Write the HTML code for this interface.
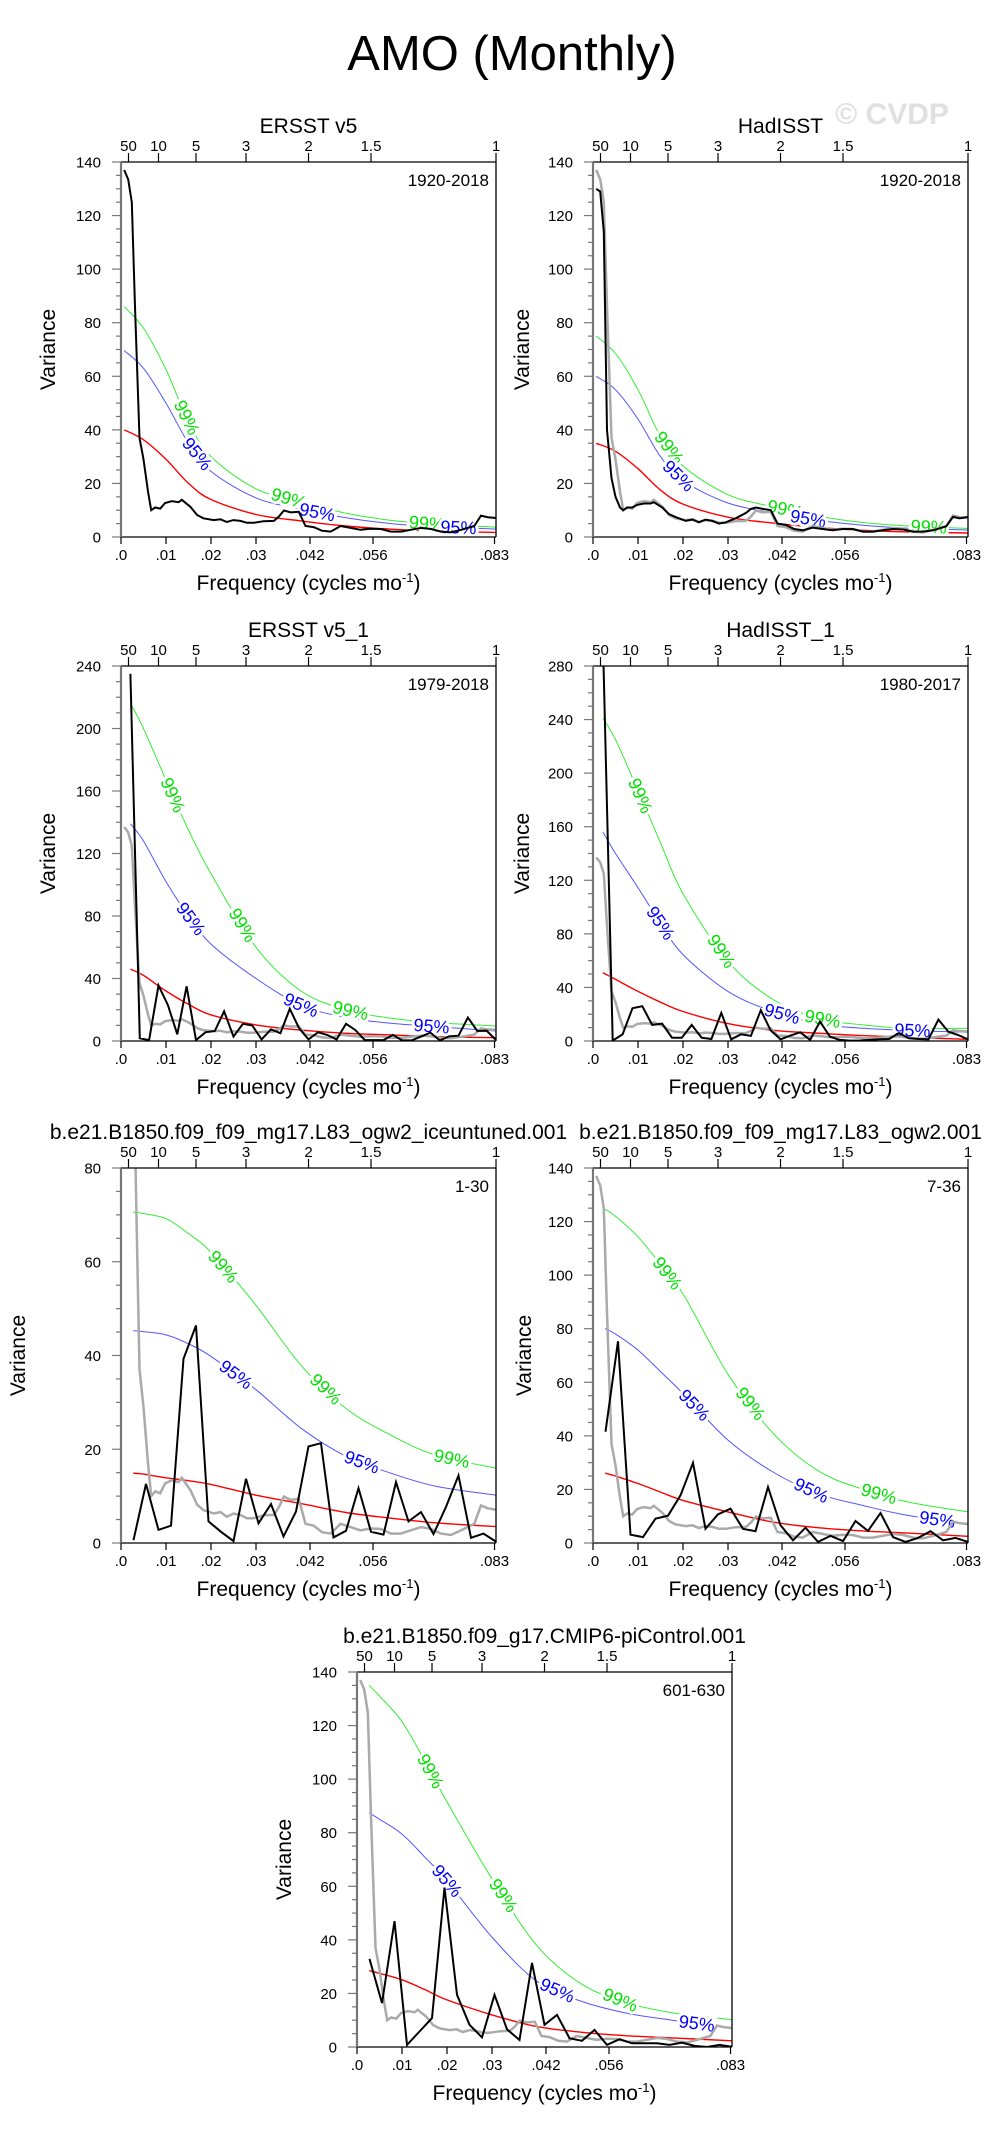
<!DOCTYPE html>
<html><head><meta charset="utf-8"><style>
html,body{margin:0;padding:0;background:#fff;}
svg text{font-family:"Liberation Sans",Arial,sans-serif;}
</style></head><body>
<svg id="fig" xmlns="http://www.w3.org/2000/svg" width="998" height="2135" viewBox="0 0 998 2135">
<text x="512" y="70" font-size="49" text-anchor="middle" fill="#000">AMO (Monthly)</text>
<text x="892" y="124" font-size="30" font-weight="bold" text-anchor="middle" fill="#e0e0e0">© CVDP</text>
</svg>
<script>
// ---- data ----
const p1Freq=[.0007,.0016,.0024,.0031,.0041,.005,.006,.0067,.0076,.0087,.0098,.0113,.0128,.0135,.0154,.0169,.0183,.0206,.0221,.0235,.025,.0265,.028,.0295,.0317,.034,.0351,.0362,.0377,.0395,.041,.0428,.0447,.0466,.0488,.051,.0532,.0555,.0577,.06,.0622,.0644,.0667,.0689,.0711,.0733,.0756,.0785,.08,.0815,.0833];
const p1Black=[137,133.5,125,86,37,29,17,10,11,10.6,12.7,13.4,13,13.9,11.3,8.2,7,6.3,6.6,5.6,6.3,6,5.3,5.3,5.9,6,7.7,9.9,9.2,9.4,4.1,3.7,2.3,2,4.1,3.4,2.7,3.1,3,2,2,2.7,3.4,3,2,1.7,2.7,4.1,8,7.4,7.1];
const p2Black=[130,129,114,40,22,15,11,10,11,11,12,12.5,12.5,13,11,8.5,7.5,6,6.5,5.5,6.5,6,5,5.5,7,9,10.5,11,10.5,10,5,4.5,3,2.5,3.5,3,2.5,3,3,2,2,2.5,3,2.8,2,2,2.5,4,7.5,7,7.5];
const p3Black=[235,1.7,0.6,35.6,23,4.3,35,0.6,5.6,6.4,19,2.8,11,9.9,1,7.5,5,20.6,8.1,1,5.6,3.9,1,11,7,0.6,0.6,0.6,3.9,0.4,0.4,2.8,5.4,0.4,3,3.4,15,6.4,6.6,0.6];
const p4Black=[300,0.3,5,24.5,26,12,13,2.5,2.5,12,2.5,1.5,21,1.3,5,3.8,23,8,1.3,4,6.5,0.8,14.5,3.3,0.8,0.3,0.3,0.8,1.3,1.5,6,2,1.5,1.3,16,7,4.5,1.3];
const p5Black=[0.6,12.6,2.8,3.7,39.3,46.4,4.6,2.4,0.4,13.7,4.2,8.3,1.4,6.7,20.6,21.3,1.2,2.6,11.7,2.4,1.8,13,4.6,6.6,1.9,7.7,14.4,1.1,2,0.3];
const p6Black=[41.5,75.3,3.1,2.2,9.1,10.2,17.8,29.9,5.3,10.7,12.8,5.3,4.4,20.9,6.6,1,5.7,0.4,2.7,0.7,8.2,4.5,11.2,2.2,0.4,1.9,4.4,1,1.9,0.4];
const p7Black=[32.9,16.4,47,0.8,5.8,10.8,59.5,19.5,8.3,3.6,19.5,6.6,2.6,31.4,8.3,12,3.3,2.3,6.4,0.8,2.9,1.4,1.4,1.4,0.8,1.6,0.4,0,0.8,0.1];
const sigFreqTail=[.005,.01,.015,.02,.03,.04,.05,.06,.07,.0833];
const p1Red=[40,36.3,29,20,14,8.4,6,4.1,2.9,2.2,1.7];
const p1Blue=[69.6,63,50,35,24.5,14.6,10.4,7.2,5,3.8,3];
const p1Green=[86,78,62.5,43,30,18,13,8.9,6.2,4.8,3.7];
const p2Red=[35,32,25.5,17.5,12.3,7.4,5.2,3.6,2.5,1.9,1.5];
const p2Blue=[60,55,44,30,21,12.7,9,6.2,4.4,3.3,2.6];
const p2Green=[75,68.5,55,37.5,26.5,15.8,11.3,7.8,5.4,4.1,3.2];
const p3Red=[46,42,32,23.5,16.7,10.3,7,4.9,3.9,2.8,2.1];
const p3Blue=[139,128,102,80,62,40,23,15,11.4,9.2,6.4];
const p3Green=[216,200,167,135,107,60,32,20,14.6,11.8,9.6];
const p4Red=[51,46,37,29,22,13,8,5.8,4,2.8,1.3];
const p4Blue=[156,140,114.5,88,64.5,37,22,13,9.5,8,6.5];
const p4Green=[241,225,187,148,110,59.5,31,17,12,9.5,9.5];
const p5Red=[14.9,14.7,13.9,13.3,12.5,10.2,8.4,6.5,5.3,4.3,3.5];
const p5Blue=[45.3,45.1,44.4,42.5,39.8,32.7,24.5,18.5,14.9,12.1,10.2];
const p5Green=[70.6,70.3,69.2,66,62,50.7,37.9,28.7,23,18.7,16];
const p6Red=[26.1,25,22.2,19,15.9,11.6,7.8,5.7,4.5,3.7,2.5];
const p6Blue=[80,78,72,64,55.8,38.4,26.5,18.4,14,10.3,7.2];
const p6Green=[124.6,122,114.3,104,93,63,41,27,20,15.3,11.6];
const p7Red=[28.5,27.5,25.1,21.5,17.6,12,7.6,5.5,4.2,3.4,2.3];
const p7Blue=[87.4,85,79.5,71,62,41,24.5,17,12.6,10,7];
const p7Green=[135,131,121.5,107,91.5,62.8,37.8,23.4,16.5,12.8,10.2];
const labelFreqs1=[.0146,.0169,.0373,.0436,.068,.075];
const labelFreqs2=[.0169,.019,.0427,.0478,.0746];
const labelFreqs3=[.0115,.0155,.027,.040,.051,.069];
const labelFreqs4=[.0105,.015,.0285,.042,.051,.071];
const labelFreqs5=[.0227,.0255,.0455,.0535,.0735];
const labelFreqs6=[.0165,.0225,.035,.0485,.0635,.0765];
const labelFreqs7=[.0163,.02,.0325,.0445,.0585,.0755];
const bottomTicks=[0,.01,.02,.03,.042,.056,.083];
const bottomTickLabels=[".0",".01",".02",".03",".042",".056",".083"];
const topPeriods=[50,10,5,3,2,1.5,1];
const topPeriodLabels=["50","10","5","3","2","1.5","1"];

const NS="http://www.w3.org/2000/svg";
const svg=document.getElementById('fig');
function mk(tag,attrs,parent){const e=document.createElementNS(NS,tag);for(const k in attrs)e.setAttribute(k,attrs[k]);(parent||svg).appendChild(e);return e;}
const S=375, FMAX=0.08333;
function smoothPath(pts){
  let d=`M${pts[0][0].toFixed(1)},${pts[0][1].toFixed(1)}`;
  for(let i=0;i<pts.length-1;i++){
    const p0=pts[Math.max(0,i-1)],p1=pts[i],p2=pts[i+1],p3=pts[Math.min(pts.length-1,i+2)];
    const c1=[p1[0]+(p2[0]-p0[0])/6,p1[1]+(p2[1]-p0[1])/6];
    const c2=[p2[0]-(p3[0]-p1[0])/6,p2[1]-(p3[1]-p1[1])/6];
    d+=` C${c1[0].toFixed(1)},${c1[1].toFixed(1)} ${c2[0].toFixed(1)},${c2[1].toFixed(1)} ${p2[0].toFixed(1)},${p2[1].toFixed(1)}`;
  }
  return d;
}
function interp(xs,ys,x){
  if(x<=xs[0])return ys[0];
  for(let i=0;i<xs.length-1;i++){if(x<=xs[i+1]){const t=(x-xs[i])/(xs[i+1]-xs[i]);return ys[i]+t*(ys[i+1]-ys[i]);}}
  return ys[ys.length-1];
}
function panel(cfg,idx){
  const L=cfg.x,T=cfg.y,B=T+S,R=L+S;
  const xs=f=>L+f/FMAX*S, ys=v=>B-v/cfg.ymax*S;
  const g=mk('g',{});
  
  
  const cid='clip'+idx;
  const cp=mk('clipPath',{id:cid},g);mk('rect',{x:L,y:T,width:S,height:S},cp);
  const tt=mk('text',{x:L+S/2,y:T-29,'font-size':21,'text-anchor':'middle',fill:'#000'},g);tt.textContent=cfg.title;
  
  
  const dl=mk('text',{x:R-7,y:T+24,'font-size':17,'text-anchor':'end',fill:'#000'},g);dl.textContent=cfg.dates;
  
  
  const sf=[cfg.f0].concat(sigFreqTail);
  const curves=[[cfg.green,'#33ee33',1,'99%-curve'],[cfg.blue,'#5555ff',1,'95%-curve'],[cfg.red,'#ff0000',1.4,'red-noise-curve']];
  const cg=mk('g',{'clip-path':`url(#${cid})`},g);
  curves.forEach(c=>{
    const p=mk('path',{d:smoothPath(sf.map((f,i)=>[xs(f),ys(c[0][i])])),fill:'none',stroke:c[1],'stroke-width':c[2]},cg);
    
    
  });
  cfg.labels.forEach((f,i)=>{
    const is99=i%2===0, arr=is99?cfg.green:cfg.blue;
    const x=xs(f), y=ys(interp(sf,arr,f));
    const df=0.0015, xa=xs(f-df), xb=xs(f+df), ya=ys(interp(sf,arr,f-df)), yb=ys(interp(sf,arr,f+df));
    const ang=Math.atan2(yb-ya,xb-xa)*180/Math.PI;
    const t=mk('text',{x:0,y:6,'font-size':18,'text-anchor':'middle',fill:is99?'#00e000':'#0000ff',stroke:'#fff','stroke-width':6,'paint-order':'stroke',transform:`translate(${x.toFixed(1)},${y.toFixed(1)}) rotate(${ang.toFixed(1)})`},cg);
    t.textContent=is99?'99%':'95%';
    
    
  });
  if(cfg.gray){
    const gp=mk('polyline',{points:p1Freq.map((f,i)=>`${xs(f).toFixed(1)},${ys(p1Black[i]).toFixed(1)}`).join(' '),fill:'none',stroke:'#aaaaaa','stroke-width':2.5},cg);
    
    
  }
  const bp=mk('polyline',{points:cfg.freq.map((f,i)=>`${xs(f).toFixed(1)},${ys(cfg.black[i]).toFixed(1)}`).join(' '),fill:'none',stroke:'#000','stroke-width':2},cg);
  
  
  mk('line',{x1:L,y1:T,x2:R,y2:T,stroke:'#000','stroke-width':1.3},g);
  mk('line',{x1:R,y1:T,x2:R,y2:B,stroke:'#000','stroke-width':1.3},g);
  mk('line',{x1:L,y1:B,x2:R,y2:B,stroke:'#000','stroke-width':1.3},g);
  mk('line',{x1:L,y1:T,x2:L,y2:B,stroke:'#777','stroke-width':2.2},g);
  for(let v=0;v<=cfg.ymax+1e-9;v+=cfg.minor){
    const y=ys(v), major=Math.abs(v/cfg.major-Math.round(v/cfg.major))<1e-6;
    mk('line',{x1:L-(major?9:5),y1:y,x2:L,y2:y,stroke:'#777','stroke-width':1.2},g);
    if(major){const tl=mk('text',{x:L-20,y:y+5.5,'font-size':15,'text-anchor':'end',fill:'#000'},g);tl.textContent=String(v);
      
      }
  }
  bottomTicks.forEach((f,i)=>{
    const x=xs(Math.min(f,FMAX));
    mk('line',{x1:x,y1:B,x2:x,y2:B+7,stroke:'#000','stroke-width':1.2},g);
    const tl=mk('text',{x:x,y:B+23,'font-size':15,'text-anchor':'middle',fill:'#000'},g);tl.textContent=bottomTickLabels[i];
    
    
  });
  topPeriods.forEach((p,i)=>{
    const x=xs(1/(12*p));
    mk('line',{x1:x,y1:T-9,x2:x,y2:T,stroke:'#000','stroke-width':1.2},g);
    const tl=mk('text',{x:x,y:T-11,'font-size':15,'text-anchor':'middle',fill:'#000'},g);tl.textContent=topPeriodLabels[i];
    
    
  });
  const yt=mk('text',{x:0,y:0,'font-size':21,'text-anchor':'middle',fill:'#000',transform:`translate(${L+cfg.vOff},${T+S/2}) rotate(-90)`},g);
  yt.textContent='Variance';
  
  
  const xt=mk('text',{x:L+S/2,y:B+53,'font-size':21,'text-anchor':'middle',fill:'#000'},g);
  xt.innerHTML='Frequency (cycles mo<tspan dy="-8" font-size="13">-1</tspan><tspan dy="8">)</tspan>';
  
  
}
const yrsFreq=n=>{const a=[];for(let k=1;k<=n;k++)a.push(k/(12*n));return a;};
const panels=[
 {slug:'ersst-v5',title:'ERSST v5',dates:'1920-2018',x:121,y:162,ymax:140,major:20,minor:5,f0:.0007,freq:p1Freq,black:p1Black,red:p1Red,blue:p1Blue,green:p1Green,labels:labelFreqs1,gray:false,vOff:-66},
 {slug:'hadisst',title:'HadISST',dates:'1920-2018',x:593,y:162,ymax:140,major:20,minor:5,f0:.0007,freq:p1Freq,black:p2Black,red:p2Red,blue:p2Blue,green:p2Green,labels:labelFreqs2,gray:true,vOff:-64},
 {slug:'ersst-v5-1',title:'ERSST v5_1',dates:'1979-2018',x:121,y:666,ymax:240,major:40,minor:10,f0:.0021,freq:yrsFreq(40),black:p3Black,red:p3Red,blue:p3Blue,green:p3Green,labels:labelFreqs3,gray:true,vOff:-66},
 {slug:'hadisst-1',title:'HadISST_1',dates:'1980-2017',x:593,y:666,ymax:280,major:40,minor:10,f0:.0022,freq:yrsFreq(38),black:p4Black,red:p4Red,blue:p4Blue,green:p4Green,labels:labelFreqs4,gray:true,vOff:-64},
 {slug:'iceuntuned',title:'b.e21.B1850.f09_f09_mg17.L83_ogw2_iceuntuned.001',dates:'1-30',x:121,y:1168,ymax:80,major:20,minor:5,f0:.0027,freq:yrsFreq(30),black:p5Black,red:p5Red,blue:p5Blue,green:p5Green,labels:labelFreqs5,gray:true,vOff:-96},
 {slug:'ogw2',title:'b.e21.B1850.f09_f09_mg17.L83_ogw2.001',dates:'7-36',x:593,y:1168,ymax:140,major:20,minor:5,f0:.0027,freq:yrsFreq(30),black:p6Black,red:p6Red,blue:p6Blue,green:p6Green,labels:labelFreqs6,gray:true,vOff:-62},
 {slug:'picontrol',title:'b.e21.B1850.f09_g17.CMIP6-piControl.001',dates:'601-630',x:357,y:1672,ymax:140,major:20,minor:5,f0:.0027,freq:yrsFreq(30),black:p7Black,red:p7Red,blue:p7Blue,green:p7Green,labels:labelFreqs7,gray:true,vOff:-66}
];
panels.forEach((c,i)=>panel(c,i));
</script>
</body></html>
